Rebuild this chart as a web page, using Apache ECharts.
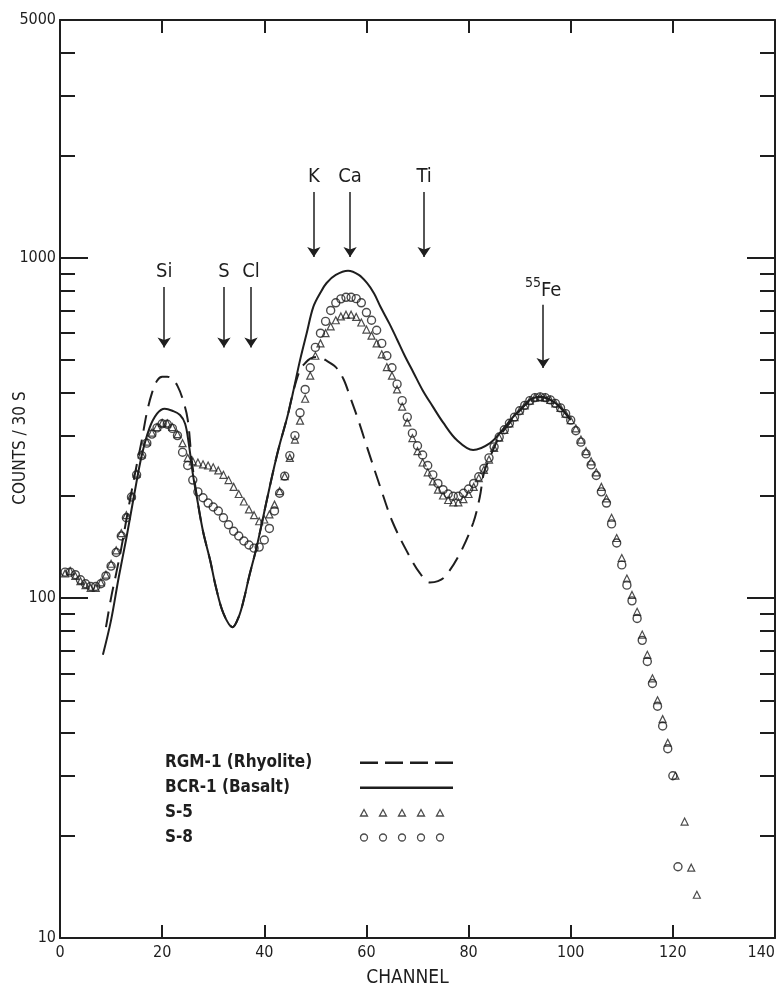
<!DOCTYPE html>
<html>
<head>
<meta charset="utf-8">
<script src="https://cdn.jsdelivr.net/npm/echarts@6/dist/echarts.min.js"></script>
<style>
html, body { margin: 0; background: #fff; }
#main { width: 778px; height: 994px; }
</style>
</head>
<body>
<div id="main"></div>
<script>
var INK = '#1e1e1e';
var FONT = '"DejaVu Sans Condensed", "Liberation Sans Narrow", "DejaVu Sans", sans-serif';

// RGM-1 (Rhyolite) dashed curve
var rgmChannels = [9, 10, 11, 12, 13, 14, 15, 16, 17, 18, 19, 20, 21, 22, 23, 24, 25, 25.8, 27, 28,
    29.4, 30.5, 32, 33.8, 35, 36, 37, 38.5, 40.5, 42, 43, 44.5, 45.6, 47, 48, 49, 50.5, 52, 54, 55.5,
    56.8, 58.5, 60.1, 62.7, 65.2, 68.5, 70.5, 72.4, 74, 75.5, 78.3, 80.9, 82.2, 83, 84, 86, 88, 90, 92, 94,
    96, 98, 100];
var rgmCounts = [82, 100, 118, 140, 170, 205, 245, 290, 350, 400, 435, 447, 447, 440, 420, 385, 335, 254, 190, 157,
    129, 108, 90, 82, 88, 99, 115, 141, 194, 245, 282, 340, 400, 468, 490, 505, 511, 500, 477, 440,
    390, 330, 278, 212, 166, 132, 118, 111, 112, 116, 135, 166, 198, 233, 255, 297, 326, 355, 380, 390,
    382, 362, 333];

// BCR-1 (Basalt) solid curve
var bcrChannels = [8.4, 10, 11.5, 13, 14.5, 16, 17.5, 19, 20.5, 22, 23.5, 24.5, 25.2, 26, 27, 28, 29.4, 30.5, 32, 33.8,
    35, 36, 37, 38.5, 40.5, 42, 43, 44.5, 45.6, 47, 48.3, 49.6, 51, 52.2, 54, 56.4, 58.5, 60.1, 61.5, 62.7,
    64.5, 66, 67.5, 69.2, 71, 73, 75, 77.7, 80.9, 84.2, 86.5, 88.7, 90.5, 92, 94, 96, 98, 100];
var bcrCounts = [68, 86, 115, 150, 200, 262, 315, 348, 360, 355, 345, 325, 285, 232, 190, 157, 129, 108, 90, 82,
    88, 99, 115, 141, 194, 245, 282, 340, 400, 500, 600, 717, 790, 843, 890, 915, 890, 843, 785, 720,
    640, 575, 515, 460, 408, 365, 328, 291, 272, 285, 310, 340, 362, 382, 390, 382, 363, 333];

// S-8 circles, channel 1 .. 121
var s8FirstChannel = 1;
var s8Counts = [119, 119, 117, 113, 110, 108, 108, 110, 116, 124,
    136, 152, 172, 198, 230, 262, 285, 303, 316, 325,
    324, 315, 300, 268, 245, 222, 205, 197, 190, 185,
    180, 172, 164, 157, 152, 147, 143, 140, 141, 148,
    160, 180, 203, 228, 262, 300, 350, 410, 475, 545,
    600, 650, 700, 737, 757, 765, 765, 758, 737, 690,
    655, 612, 560, 515, 475, 425, 380, 340, 305, 280,
    263, 245, 230, 217, 208, 202, 199, 199, 203, 209,
    217, 227, 240, 258, 278, 297, 312, 326, 340, 355,
    368, 380, 388, 390, 388, 382, 373, 362, 348, 333,
    310, 287, 265, 246, 229, 205, 190, 165, 145, 125,
    109, 98, 87, 75, 65, 56, 48, 42, 36, 30,
    16.2];

// S-5 triangles, channel 1 .. 119, then a few off-grid tail points
var s5FirstChannel = 1;
var s5Counts = [118, 120, 116, 112, 109, 107, 107, 111, 117, 126,
    138, 155, 175, 200, 232, 264, 288, 306, 318, 327,
    326, 318, 303, 285, 258, 252, 250, 247, 245, 242,
    237, 230, 222, 212, 202, 192, 182, 175, 168, 170,
    176, 188, 206, 228, 258, 292, 332, 385, 450, 515,
    560, 600, 628, 655, 672, 680, 680, 670, 645, 615,
    590, 560, 520, 477, 450, 410, 365, 328, 295, 270,
    250, 234, 220, 208, 200, 194, 191, 191, 195, 202,
    212, 225, 238, 255, 276, 296, 312, 326, 340, 355,
    368, 380, 388, 390, 388, 382, 373, 362, 348, 333,
    315, 292, 270, 252, 234, 212, 196, 172, 150, 131,
    114, 102, 91, 78, 68, 58, 50, 44, 37.5];
var s5TailChannels = [120.5, 122.3, 123.6, 124.7];
var s5TailCounts = [30, 22, 16.1, 13.4];

// element arrows (channel, shaft top, arrow tip)
var peakNames = ['Si', 'S', 'Cl', 'K', 'Ca', 'Ti', '{sup|55}{el|Fe}'];
var peakChannels = [20.4, 32.1, 37.4, 49.7, 56.8, 71.3, 94.6];
var peakFrom = [820, 820, 820, 1560, 1560, 1560, 727];
var peakTo = [545, 545, 545, 1005, 1005, 1005, 474];

var yLabels = [10, 100, 1000, 5000];
var yMajorTicks = [100, 1000];
var yMinorTicks = [20, 30, 40, 50, 60, 70, 80, 90, 200, 300, 400, 500, 600, 700, 800, 900, 2000, 3000, 4000];

function pairs(xs, ys) {
    var out = [];
    for (var i = 0; i < xs.length; i++) out.push([xs[i], ys[i]]);
    return out;
}
function byChannel(first, ys) {
    var out = [];
    for (var i = 0; i < ys.length; i++) out.push([first + i, ys[i]]);
    return out;
}

function yAxisOf(pos, major) {
    return {
        type: 'log', logBase: 10, min: 10, max: 5000, position: pos,
        axisLine: { show: major, lineStyle: { color: INK, width: 2 } },
        axisTick: {
            show: true, inside: true, length: major ? 28 : 15,
            lineStyle: { color: INK, width: 2 },
            customValues: major ? yMajorTicks : yMinorTicks
        },
        axisLabel: {
            show: major && pos === 'left', customValues: yLabels, margin: 4,
            color: INK, fontFamily: FONT, fontSize: 16,
            formatter: function (v) { return String(Math.round(v)); }
        },
        splitLine: { show: false },
        name: (major && pos === 'left') ? 'COUNTS / 30 S' : '',
        nameLocation: 'middle', nameGap: 31, nameMoveOverlap: false,
        nameTextStyle: { color: INK, fontFamily: FONT, fontSize: 17, padding: [0, 0, 0, 62] }
    };
}

function xAxisOf(pos) {
    return {
        type: 'value', min: 0, max: 140, interval: 20, position: pos,
        axisLine: { show: true, lineStyle: { color: INK, width: 2 } },
        axisTick: { show: true, inside: true, length: 13, lineStyle: { color: INK, width: 2 } },
        axisLabel: { show: pos === 'bottom', margin: 7, color: INK, fontFamily: FONT, fontSize: 16, alignMaxLabel: 'right' },
        splitLine: { show: false },
        name: pos === 'bottom' ? 'CHANNEL' : '',
        nameLocation: 'middle', nameGap: 31, nameMoveOverlap: false,
        nameTextStyle: { color: INK, fontFamily: FONT, fontSize: 19, padding: [0, 20, 0, 0] }
    };
}

var arrows = [];
for (var i = 0; i < peakNames.length; i++) {
    var isFe = peakNames[i].indexOf('Fe') >= 0;
    arrows.push([
        { coord: [peakChannels[i], peakFrom[i]], label: { formatter: peakNames[i], distance: isFe ? 0 : 5 } },
        { coord: [peakChannels[i], peakTo[i]] }
    ]);
}

var chart = echarts.init(document.getElementById('main'), null, { renderer: 'canvas' });

var option = {
    backgroundColor: '#fff',
    animation: false,
    grid: { left: 60, right: 3, top: 20, bottom: 56, containLabel: false, outerBoundsMode: 'none' },
    xAxis: [xAxisOf('bottom'), xAxisOf('top')],
    yAxis: [yAxisOf('left', true), yAxisOf('left', false), yAxisOf('right', true), yAxisOf('right', false)],
    legend: {
        orient: 'vertical', left: 160, top: 749, align: 'right',
        itemWidth: 95, itemHeight: 12, itemGap: 8, selectedMode: false,
        formatter: function (name) { return '{t|' + name + '}'; },
        textStyle: {
            color: INK, fontFamily: FONT, fontSize: 17, fontWeight: 'bold',
            rich: { t: { width: 190, align: 'left', color: INK, fontFamily: FONT, fontSize: 17, fontWeight: 'bold', lineHeight: 20 } }
        },
        data: [
            { name: 'RGM-1 (Rhyolite)', icon: 'path://M0,0M95,12M0,5h18v2.5h-18zM25,5h18v2.5h-18zM50,5h18v2.5h-18zM75,5h18v2.5h-18z',
              itemStyle: { color: INK, borderWidth: 0 } },
            { name: 'BCR-1 (Basalt)', icon: 'path://M0,0M95,12M0,5h93v2.5h-93z',
              itemStyle: { color: INK, borderWidth: 0 } },
            { name: 'S-5', icon: 'path://M0,0M95,12M0.5,9.5L4,3L7.5,9.5ZM19.5,9.5L23,3L26.5,9.5ZM38.5,9.5L42,3L45.5,9.5ZM57.5,9.5L61,3L64.5,9.5ZM76.5,9.5L80,3L83.5,9.5Z',
              itemStyle: { color: 'transparent', borderColor: INK, borderWidth: 1.3 } },
            { name: 'S-8', icon: 'path://M0,0M95,12M0.5,6a3.5,3.5 0 1,0 7,0a3.5,3.5 0 1,0 -7,0ZM19.5,6a3.5,3.5 0 1,0 7,0a3.5,3.5 0 1,0 -7,0ZM38.5,6a3.5,3.5 0 1,0 7,0a3.5,3.5 0 1,0 -7,0ZM57.5,6a3.5,3.5 0 1,0 7,0a3.5,3.5 0 1,0 -7,0ZM76.5,6a3.5,3.5 0 1,0 7,0a3.5,3.5 0 1,0 -7,0Z',
              itemStyle: { color: 'transparent', borderColor: INK, borderWidth: 1.3 } }
        ]
    },
    series: [
        {
            name: 'S-8', type: 'scatter', xAxisIndex: 0, yAxisIndex: 0,
            symbol: 'circle', symbolSize: 8, color: INK,
            itemStyle: { color: 'transparent', borderColor: INK, borderWidth: 1.4 },
            data: byChannel(s8FirstChannel, s8Counts), z: 2
        },
        {
            name: 'S-5', type: 'scatter', xAxisIndex: 0, yAxisIndex: 0,
            symbol: 'triangle', symbolSize: 7, color: INK,
            itemStyle: { color: 'transparent', borderColor: INK, borderWidth: 1.2 },
            data: byChannel(s5FirstChannel, s5Counts).concat(pairs(s5TailChannels, s5TailCounts)), z: 2
        },
        {
            name: 'RGM-1 (Rhyolite)', type: 'line', xAxisIndex: 0, yAxisIndex: 0,
            symbol: 'none', smooth: 0.35, color: INK,
            lineStyle: { color: INK, width: 2, type: [16, 9] },
            data: pairs(rgmChannels, rgmCounts), z: 3
        },
        {
            name: 'BCR-1 (Basalt)', type: 'line', xAxisIndex: 0, yAxisIndex: 0,
            symbol: 'none', smooth: 0.35, color: INK,
            lineStyle: { color: INK, width: 2 },
            data: pairs(bcrChannels, bcrCounts), z: 3
        },
        {
            name: 'peaks', type: 'line', xAxisIndex: 0, yAxisIndex: 0, data: [],
            markLine: {
                silent: true, animation: false,
                symbol: ['none', 'arrow'], symbolSize: 10,
                lineStyle: { color: INK, width: 1.5, type: 'solid' },
                label: {
                    show: true, position: 'start', distance: 5,
                    color: INK, fontFamily: FONT, fontSize: 20,
                    rich: {
                        sup: { fontFamily: FONT, fontSize: 14, color: INK, padding: [0, 0, 14, 0] },
                        el: { fontFamily: FONT, fontSize: 20, color: INK }
                    }
                },
                data: arrows
            }
        }
    ]
};

chart.setOption(option);
</script>
</body>
</html>
